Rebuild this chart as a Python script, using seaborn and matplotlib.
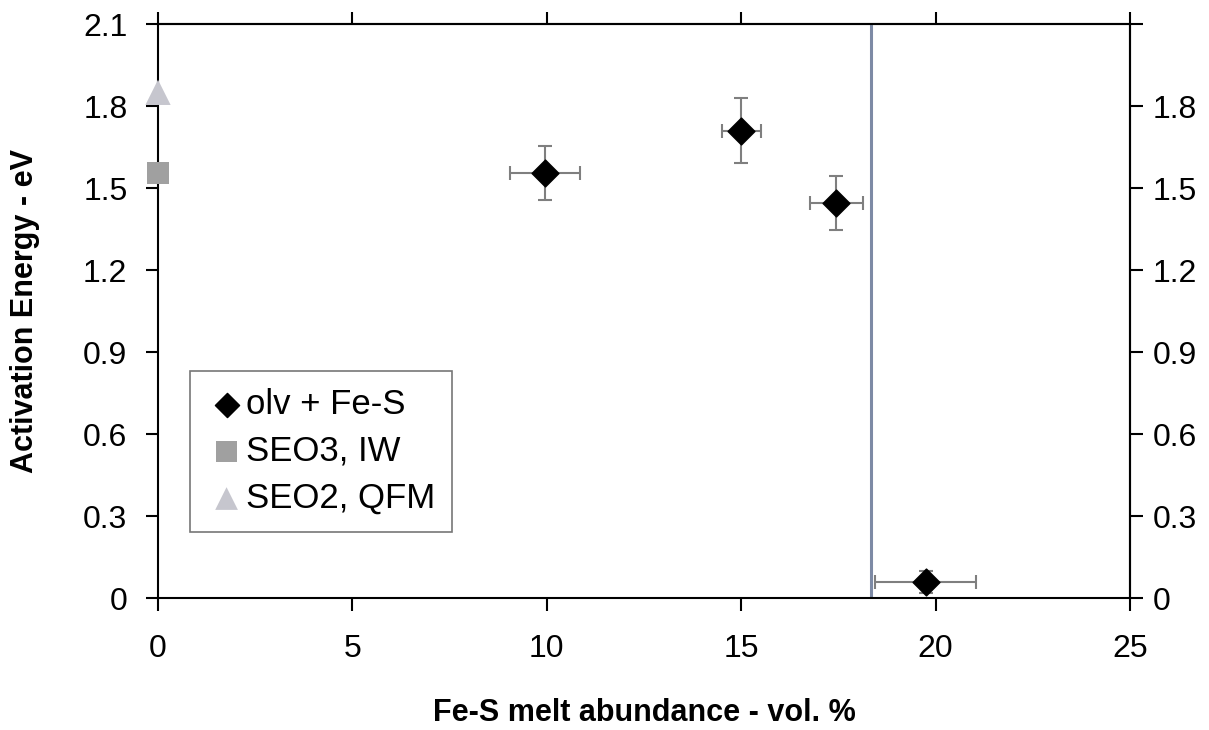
import numpy as np
import pandas as pd
import matplotlib
matplotlib.use("Agg")
import matplotlib.pyplot as plt
import seaborn as sns

# olv + Fe-S samples
melt_vol = [9.95, 15.0, 17.45, 19.75]
act_energy = [1.555, 1.71, 1.445, 0.06]
xerr = [0.9, 0.5, 0.68, 1.3]
yerr = [0.1, 0.12, 0.1, 0.04]

# reference runs at zero melt
seo3_x, seo3_y = [0.0], [1.555]
seo2_x, seo2_y = [0.0], [1.85]

threshold = 18.35

sns.set_style("ticks")
plt.rcParams["font.family"] = ["Liberation Sans", "DejaVu Sans"]
plt.rcParams["text.color"] = "black"
plt.rcParams["axes.labelcolor"] = "black"

fig = plt.figure(figsize=(12.09, 7.30), dpi=100)
ax = fig.add_axes([0.1307, 0.1808, 0.8040, 0.7863])

ax.axvline(threshold, color="#7d8aa5", lw=2.2, zorder=1)

ax.errorbar(melt_vol, act_energy, xerr=xerr, yerr=yerr, fmt="none",
            ecolor="#7f7f7f", elinewidth=1.5, capsize=5, capthick=1.5, zorder=2)

df = pd.DataFrame({"x": melt_vol, "y": act_energy})
sns.scatterplot(data=df, x="x", y="y", marker="D", s=185, color="black",
                edgecolor="black", ax=ax, zorder=3, label="olv + Fe-S")
sns.scatterplot(x=seo3_x, y=seo3_y, marker="s", s=270, color="#a0a0a0",
                edgecolor="none", ax=ax, zorder=3, label="SEO3, IW", clip_on=False)
sns.scatterplot(x=seo2_x, y=seo2_y, marker="^", s=330, color="#c6c6ce",
                edgecolor="none", ax=ax, zorder=3, label="SEO2, QFM", clip_on=False)

ax.set_xlim(0, 25)
ax.set_ylim(0, 2.1)
xt = [0, 5, 10, 15, 20, 25]
yt = [0, 0.3, 0.6, 0.9, 1.2, 1.5, 1.8, 2.1]
ax.set_xticks(xt)
ax.set_xticklabels([str(v) for v in xt])
ax.set_yticks(yt)
ax.set_yticklabels(["0", "0.3", "0.6", "0.9", "1.2", "1.5", "1.8", "2.1"])
ax.tick_params(axis="both", direction="out", length=9, width=1.5,
               labelsize=23, colors="black")
ax.tick_params(axis="x", pad=17)
ax.tick_params(axis="y", pad=13)

for s in ax.spines.values():
    s.set_color("black")
    s.set_linewidth(1.5)

ax_top = ax.secondary_xaxis("top")
ax_top.set_xticks(xt)
ax_top.set_xticklabels([])
ax_top.tick_params(direction="out", length=9, width=1.5, colors="black")
ax_top.spines["top"].set_linewidth(1.5)

ax_r = ax.secondary_yaxis("right")
ax_r.set_yticks(yt)
ax_r.set_yticklabels(["0", "0.3", "0.6", "0.9", "1.2", "1.5", "1.8", ""])
ax_r.tick_params(direction="out", length=9, width=1.5, labelsize=23, pad=7,
                 colors="black")
ax_r.spines["right"].set_linewidth(1.5)

ax.set_xlabel("Fe-S melt abundance - vol. %", fontsize=22, fontweight="bold")
ax.set_ylabel("Activation Energy - eV", fontsize=22, fontweight="bold")
ax.xaxis.set_label_coords(0.5, -0.175)
ax.yaxis.set_label_coords(-0.121, 0.5)

leg = ax.legend(loc="lower left", bbox_to_anchor=(0.033, 0.115), fontsize=25,
                frameon=True, fancybox=False, edgecolor="#555555",
                handletextpad=0.0, handlelength=1.1, borderpad=0.5,
                labelspacing=0.4, borderaxespad=0, markerscale=0.9)
leg.get_frame().set_linewidth(1.2)

plt.savefig("out.png", dpi=100)
plt.close()
